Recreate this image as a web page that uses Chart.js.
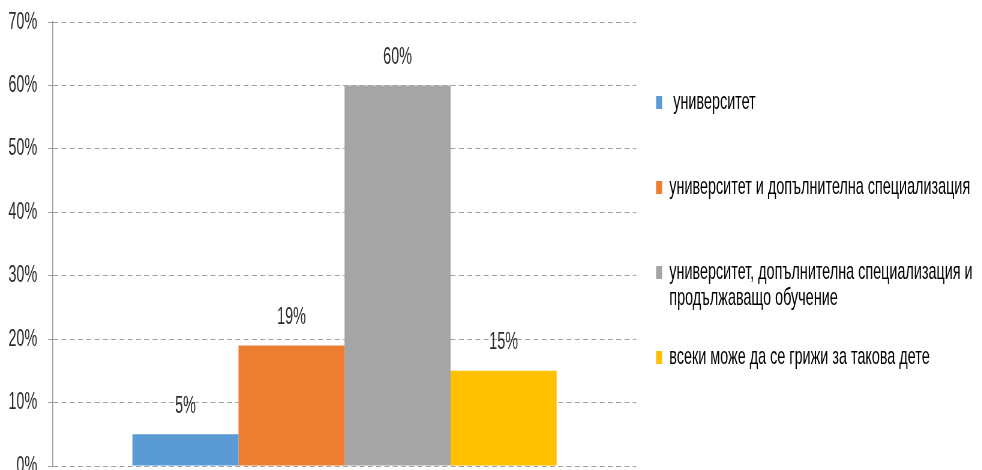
<!DOCTYPE html>
<html>
<head>
<meta charset="utf-8">
<script src="https://cdn.jsdelivr.net/npm/chart.js@4/dist/chart.umd.min.js"></script>
<style>
  body { margin: 0; background: #fff; overflow: hidden; }
  /* chart is laid out wide, then squeezed horizontally for the narrow lettering */
  #chart { transform: scaleX(0.6); transform-origin: 0 0; }
</style>
</head>
<body>
<canvas id="chart" width="1637" height="470"></canvas>
<script>
// legend text, one entry per line
const seriesNames = [
  [' университет'],
  ['университет и допълнителна специализация'],
  ['университет, допълнителна специализация и', 'продължаващо обучение'],
  ['всеки може да се грижи за такова дете']
];
const shares = [5, 19, 60, 15];
const colors = ['#5b9bd5', '#ed7d31', '#a5a5a5', '#ffc000'];
const yTicks = [0, 10, 20, 30, 40, 50, 60, 70];

const FONT = '"Liberation Sans", Arial, sans-serif';

// percentage above each bar
const barLabels = {
  id: 'barLabels',
  afterDatasetsDraw(chart) {
    const ctx = chart.ctx;
    ctx.save();
    ctx.font = '24px ' + FONT;
    ctx.fillStyle = '#2b2b2b';
    ctx.textAlign = 'center';
    ctx.textBaseline = 'middle';
    chart.data.datasets.forEach((ds, i) => {
      const bar = chart.getDatasetMeta(i).data[0];
      ctx.fillText(Math.round(ds.data[0]) + '%', bar.x, bar.y - 28);
    });
    ctx.restore();
  }
};

new Chart(document.getElementById('chart'), {
  type: 'bar',
  data: {
    labels: [''],
    datasets: seriesNames.map((name, i) => ({
      label: name.join(' '),
      data: [shares[i]],
      backgroundColor: colors[i],
      borderWidth: 0
    }))
  },
  options: {
    responsive: false,
    animation: false,
    categoryPercentage: 0.727,
    barPercentage: 1,
    layout: { autoPadding: false, padding: { top: 22, bottom: 4, left: 0, right: 6 } },
    scales: {
      x: { display: false },
      y: {
        min: 0,
        max: 70,
        afterBuildTicks: s => { s.ticks = yTicks.map(v => ({ value: v })); },
        afterFit: s => { s.width = 88; },
        ticks: {
          padding: 0,
          color: '#2b2b2b',
          // small line height keeps the edge labels from padding the plot
          font: { family: FONT, size: 24, lineHeight: 0.3 },
          callback: v => v + '%'
        },
        grid: {
          color: '#a0a0a0',
          // long tick so the labels sit clear, only the last 8px drawn
          tickLength: 26,
          tickColor: '#a0a0a0',
          tickBorderDash: [8, 30],
          tickBorderDashOffset: 20
        },
        border: { display: true, color: '#9a9a9a', width: 1.6, dash: [8.3, 5.5] }
      }
    },
    plugins: {
      tooltip: { enabled: false },
      legend: {
        position: 'right',
        align: 'center',
        maxWidth: 700,
        labels: {
          boxWidth: 10,
          boxHeight: 13,
          padding: 33,
          color: '#222',
          font: { family: FONT, size: 24, lineHeight: 1.083 },
          generateLabels: chart => chart.data.datasets.map((ds, i) => ({
            text: seriesNames[i].length > 1 ? seriesNames[i] : [seriesNames[i][0], ''],
            fillStyle: colors[i],
            strokeStyle: colors[i],
            lineWidth: 0,
            datasetIndex: i
          }))
        }
      }
    }
  },
  plugins: [barLabels]
});
</script>
</body>
</html>
